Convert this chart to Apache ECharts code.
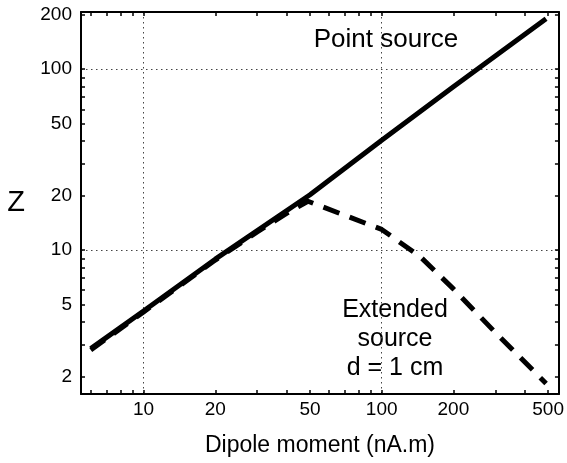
<!DOCTYPE html>
<html>
<head>
<meta charset="utf-8">
<script src="https://cdn.jsdelivr.net/npm/echarts@6/dist/echarts.min.js"></script>
<style>
  html, body { margin: 0; padding: 0; background: #fff; }
  #chart { width: 567px; height: 463px; }
</style>
</head>
<body>
<div id="chart"></div>
<script>
// dipole moment (nA.m) and Z
const pointMoment = [6, 10, 20, 50, 100, 200, 490]
const pointZ = [2.85, 4.6, 8.9, 20.2, 40.5, 80, 190]
const extMoment = [6, 10, 20, 30, 40, 49, 100, 145, 200, 294, 490]
const extZ = [2.8, 4.55, 8.8, 12.6, 16.0, 18.6, 13.0, 9.2, 6.1, 3.6, 1.83]

const xLabelValues = [10, 20, 50, 100, 200, 500]
const xTickValues = [6, 7, 8, 9, 10, 20, 30, 40, 50, 60, 70, 80, 90, 100, 200, 300, 400, 500]
const yLabelValues = [2, 5, 10, 20, 50, 100, 200]
const yTickValues = [2, 3, 4, 5, 6, 7, 8, 9, 10, 20, 30, 40, 50, 60, 70, 80, 90, 100, 200]
const gridValues = [10, 100]

const xRange = [5.46, 555]
const yRange = [1.6, 207]

const lg = v => Math.log10(v)
const font = 'Liberation Sans'

let chart = echarts.init(document.getElementById('chart'), null, { renderer: 'canvas' })

function sideAxis (position, withLabels, range, labelValues, tickValues) {
  return {
    type: 'value',
    position: position,
    min: lg(range[0]),
    max: lg(range[1]),
    axisLine: { show: true, onZero: false, lineStyle: { color: '#000', width: 2 } },
    axisTick: {
      show: true,
      inside: true,
      length: 4,
      customValues: tickValues.map(lg),
      lineStyle: { color: '#000', width: 1.5 }
    },
    axisLabel: {
      show: withLabels,
      customValues: labelValues.map(lg),
      formatter: v => String(Math.round(Math.pow(10, v))),
      color: '#000',
      fontFamily: font,
      fontSize: 19
    },
    splitLine: { show: false }
  }
}

function gridAxis (position, range) {
  return {
    type: 'value',
    position: position,
    min: lg(range[0]),
    max: lg(range[1]),
    axisLine: { show: false, onZero: false },
    axisTick: { show: false, customValues: gridValues.map(lg) },
    axisLabel: { show: false },
    splitLine: {
      show: true,
      lineStyle: { color: '#444', width: 1, type: [1.5, 3.5] }
    }
  }
}

let xBottom = sideAxis('bottom', true, xRange, xLabelValues, xTickValues)
xBottom.axisLabel.margin = 6
xBottom.name = 'Dipole moment (nA.m)'
xBottom.nameLocation = 'middle'
xBottom.nameGap = 40
xBottom.nameTextStyle = { color: '#000', fontFamily: font, fontSize: 23 }

let yLeft = sideAxis('left', true, yRange, yLabelValues, yTickValues)
yLeft.axisLabel.margin = 9
yLeft.name = 'Z'
yLeft.nameLocation = 'middle'
yLeft.nameRotate = 0
yLeft.nameGap = 56
yLeft.nameTextStyle = { color: '#000', fontFamily: font, fontSize: 29 }

let option = {
  backgroundColor: '#fff',
  animation: false,
  grid: { left: 81, right: 8, top: 12, bottom: 69, containLabel: false },
  xAxis: [
    xBottom,
    sideAxis('top', false, xRange, xLabelValues, xTickValues),
    gridAxis('bottom', xRange)
  ],
  yAxis: [
    yLeft,
    sideAxis('right', false, yRange, yLabelValues, yTickValues),
    gridAxis('left', yRange)
  ],
  graphic: [
    {
      type: 'text',
      x: 386,
      y: 40,
      style: {
        text: 'Point source',
        fill: '#000',
        font: '26px "Liberation Sans"',
        align: 'center',
        verticalAlign: 'middle'
      }
    },
    {
      type: 'text',
      x: 395,
      y: 339,
      style: {
        text: 'Extended\nsource\nd = 1 cm',
        fill: '#000',
        font: '25px "Liberation Sans"',
        lineHeight: 29,
        align: 'center',
        verticalAlign: 'middle'
      }
    }
  ],
  series: [
    {
      name: 'Extended source',
      type: 'line',
      xAxisIndex: 0,
      yAxisIndex: 0,
      showSymbol: false,
      symbol: 'none',
      lineStyle: { color: '#000', width: 5, type: [17, 11], cap: 'butt' },
      data: extMoment.map((m, i) => [lg(m), lg(extZ[i])])
    },
    {
      name: 'Point source',
      type: 'line',
      xAxisIndex: 0,
      yAxisIndex: 0,
      showSymbol: false,
      symbol: 'none',
      lineStyle: { color: '#000', width: 5, cap: 'butt' },
      data: pointMoment.map((m, i) => [lg(m), lg(pointZ[i])])
    }
  ]
}
chart.setOption(option)
</script>
</body>
</html>
